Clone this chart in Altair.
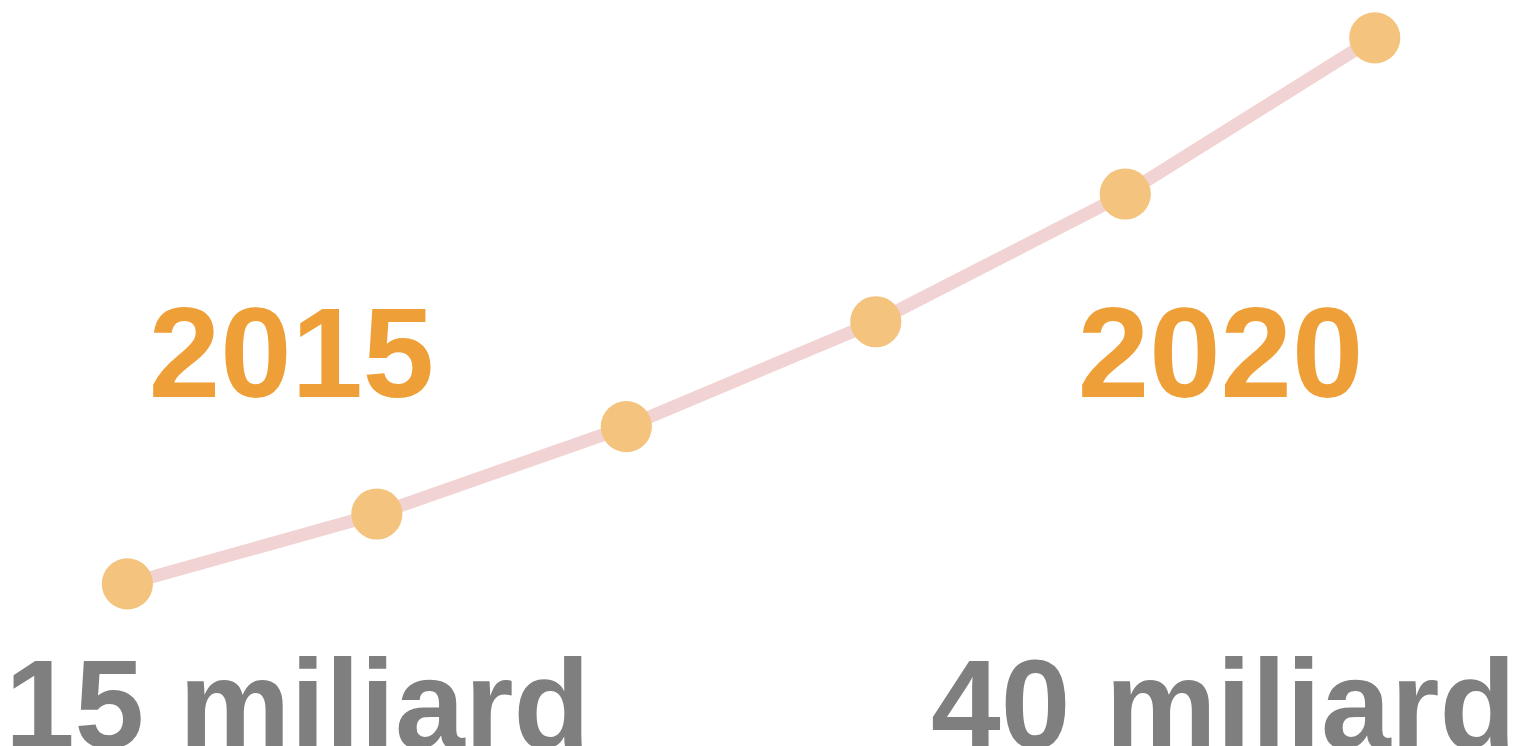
import altair as alt
import pandas as pd

years = [2015, 2016, 2017, 2018, 2019, 2020]
values = [15, 18.2, 22.2, 27.0, 32.85, 40]

label_years = ["2015", "2020"]
label_amounts = ["15 miliard", "40 miliard"]

df = pd.DataFrame({"year": years, "value": values})

W, H = 1512, 738
xscale = alt.Scale(domain=[2014.5215, 2020.5502], nice=False, zero=False)
yscale = alt.Scale(domain=[7.668, 41.275], nice=False, zero=False)

FONT = "Arial, Liberation Sans, Helvetica, sans-serif"

base = alt.Chart(df).encode(
    x=alt.X("year:Q", scale=xscale, axis=None),
    y=alt.Y("value:Q", scale=yscale, axis=None),
)

line = base.mark_line(color="#F2D3D3", strokeWidth=13)
points = base.mark_circle(color="#F4C47E", opacity=1, size=2650)

lab_df = pd.DataFrame({"year_label": label_years, "amount": label_amounts, "idx": [0, 1]})

def txt(row, field, color, x, y, size):
    return alt.Chart(lab_df[lab_df.idx == row]).mark_text(
        font=FONT, fontWeight="bold", fontSize=size, color=color,
        align="center", baseline="alphabetic"
    ).encode(text=f"{field}:N", x=alt.value(x), y=alt.value(y))

year_text_left = txt(0, "year_label", "#EF9F37", 285, 389, 129)
year_text_right = txt(1, "year_label", "#EF9F37", 1219, 389, 129)
amt_left = txt(0, "amount", "#7F7F7F", 291, 742, 126)
amt_right = txt(1, "amount", "#7F7F7F", 1222, 742, 126)

chart = alt.layer(line, points, year_text_left, year_text_right, amt_left, amt_right).properties(
    width=W, height=H, padding=0, autosize=alt.AutoSizeParams(type="none"),
    background="white"
).configure_view(stroke=None)

chart.save("out.html", embed_options={"renderer": "svg", "actions": False})
